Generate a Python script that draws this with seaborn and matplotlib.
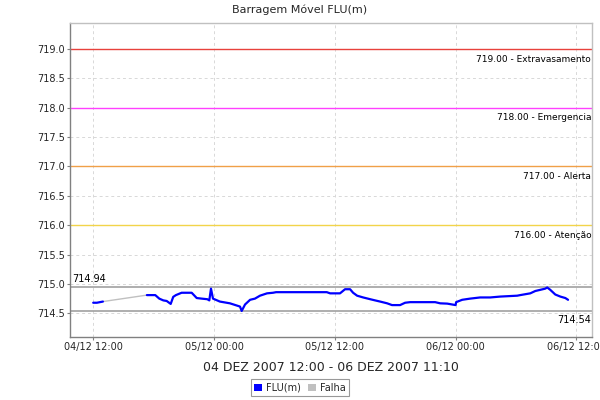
import matplotlib
matplotlib.use("Agg")
import matplotlib.pyplot as plt
import matplotlib.dates as mdates
from matplotlib.patches import Patch
import seaborn as sns
import pandas as pd

# ---- data ----
flu_times = [
    "2007-12-04 12:00", "2007-12-04 12:22", "2007-12-04 12:58",
    "2007-12-04 17:20", "2007-12-04 18:10", "2007-12-04 18:34", "2007-12-04 18:58",
    "2007-12-04 19:18", "2007-12-04 19:42", "2007-12-04 19:57", "2007-12-04 20:13",
    "2007-12-04 20:47", "2007-12-04 21:47", "2007-12-04 22:17", "2007-12-04 22:47",
    "2007-12-04 23:20", "2007-12-04 23:32", "2007-12-04 23:42", "2007-12-04 23:54",
    "2007-12-05 00:35", "2007-12-05 01:35", "2007-12-05 02:35", "2007-12-05 02:45",
    "2007-12-05 03:05", "2007-12-05 03:35", "2007-12-05 04:04", "2007-12-05 04:34",
    "2007-12-05 05:16", "2007-12-05 05:52", "2007-12-05 06:10", "2007-12-05 11:12",
    "2007-12-05 11:32", "2007-12-05 12:31", "2007-12-05 13:01", "2007-12-05 13:31",
    "2007-12-05 13:49", "2007-12-05 14:13", "2007-12-05 14:49", "2007-12-05 15:31",
    "2007-12-05 16:00", "2007-12-05 16:30", "2007-12-05 17:12", "2007-12-05 17:41",
    "2007-12-05 18:29", "2007-12-05 18:59", "2007-12-05 19:29", "2007-12-05 21:58",
    "2007-12-05 22:28", "2007-12-05 23:10", "2007-12-06 00:00", "2007-12-06 00:03",
    "2007-12-06 00:39", "2007-12-06 01:26", "2007-12-06 02:26", "2007-12-06 03:26",
    "2007-12-06 04:26", "2007-12-06 06:07", "2007-12-06 06:25", "2007-12-06 07:25",
    "2007-12-06 07:55", "2007-12-06 08:25", "2007-12-06 08:54", "2007-12-06 09:06",
    "2007-12-06 09:24", "2007-12-06 09:54", "2007-12-06 10:24", "2007-12-06 10:54",
    "2007-12-06 11:10",
]
flu_values = [
    714.68, 714.68, 714.70,
    714.81, 714.81, 714.75, 714.72,
    714.71, 714.66, 714.78, 714.81,
    714.85, 714.85, 714.76, 714.75,
    714.74, 714.72, 714.92, 714.75,
    714.70, 714.67, 714.615, 714.54,
    714.65, 714.73, 714.75, 714.80,
    714.84, 714.85, 714.86, 714.86,
    714.84, 714.84, 714.91, 714.91,
    714.85, 714.80, 714.77, 714.74,
    714.72, 714.70, 714.67, 714.64,
    714.64, 714.68, 714.69, 714.69,
    714.67, 714.665, 714.64, 714.69,
    714.73, 714.75, 714.77, 714.77,
    714.785, 714.80, 714.81, 714.84,
    714.88, 714.90, 714.92, 714.94,
    714.90, 714.82, 714.785, 714.76,
    714.73,
]
flu_segment = [0] * 3 + [1] * (len(flu_times) - 3)

falha_times = ["2007-12-04 12:58", "2007-12-04 17:20"]
falha_values = [714.70, 714.81]

limit_values = [719.0, 718.0, 717.0, 716.0]
limit_labels = ["719.00 - Extravasamento", "718.00 - Emergencia",
                "717.00 - Alerta", "716.00 - Atenção"]
limit_colors = ["#e8413c", "#ff40ff", "#f0a048", "#f2d44a"]

max_value = 714.94
min_value = 714.54

title = "Barragem Móvel FLU(m)"
xlabel = "04 DEZ 2007 12:00 - 06 DEZ 2007 11:10"

# ---- build frames ----
df = pd.DataFrame({"t": pd.to_datetime(flu_times), "v": flu_values, "seg": flu_segment})
df_f = pd.DataFrame({"t": pd.to_datetime(falha_times), "v": falha_values})

sns.set_theme(style="white")
plt.rcParams["font.family"] = ["DejaVu Sans"]

fig = plt.figure(figsize=(6, 4), dpi=100)
ax = fig.add_axes([0.117, 0.158, 0.870, 0.784])

ax.grid(True, color="#d8d8d8", linestyle=(0, (3, 3)), linewidth=0.7)
ax.set_axisbelow(True)

for val, lab, col in zip(limit_values, limit_labels, limit_colors):
    ax.axhline(val, color=col, linewidth=1.0, zorder=2)
    ax.text(0.998, val - 0.17, lab, transform=ax.get_yaxis_transform(),
            ha="right", va="center", fontsize=6.5, color="black")

ax.axhline(max_value, color="#999999", linewidth=1.1, zorder=2)
ax.axhline(min_value, color="#999999", linewidth=1.1, zorder=2)
ax.text(0.003, max_value + 0.15, f"{max_value:.2f}", transform=ax.get_yaxis_transform(),
        ha="left", va="center", fontsize=7, color="black")
ax.text(0.998, min_value - 0.15, f"{min_value:.2f}", transform=ax.get_yaxis_transform(),
        ha="right", va="center", fontsize=7, color="black")

sns.lineplot(data=df_f, x="t", y="v", ax=ax, color="#c0c0c0", linewidth=1.0,
             estimator=None, legend=False, zorder=3)
sns.lineplot(data=df, x="t", y="v", units="seg", estimator=None, ax=ax,
             color="#0000ff", linewidth=1.6, legend=False, zorder=4)

ax.set_xlim(pd.Timestamp("2007-12-04 09:43"), pd.Timestamp("2007-12-06 13:34"))
ax.set_ylim(714.10, 719.44)
ax.set_yticks([714.5 + 0.5 * i for i in range(10)])
ax.yaxis.set_major_formatter(matplotlib.ticker.FormatStrFormatter("%.1f"))
ax.xaxis.set_major_locator(mdates.HourLocator(byhour=[0, 12]))
ax.xaxis.set_major_formatter(mdates.DateFormatter("%d/%m %H:%M"))

ax.tick_params(axis="both", labelsize=7, length=2, width=0.8, color="#808080",
               direction="out", pad=2, bottom=True, left=True)
ax.set_xlabel(xlabel, fontsize=9, labelpad=6)
ax.set_ylabel("")

for side in ["left", "bottom"]:
    ax.spines[side].set_color("#808080")
    ax.spines[side].set_linewidth(1.0)
for side in ["top", "right"]:
    ax.spines[side].set_color("#c0c0c0")
    ax.spines[side].set_linewidth(1.0)

fig.text(0.5, 0.975, title, ha="center", va="center", fontsize=8)

handles = [Patch(facecolor="#0000ff", edgecolor="none", label="FLU(m)"),
           Patch(facecolor="#c0c0c0", edgecolor="none", label="Falha")]
leg = fig.legend(handles=handles, loc="lower center", bbox_to_anchor=(0.5, 0.005),
                 ncol=2, fontsize=7, frameon=True, fancybox=False,
                 handlelength=0.8, handleheight=0.8, handletextpad=0.4,
                 columnspacing=0.8, borderpad=0.35, borderaxespad=0.2)
leg.get_frame().set_edgecolor("#808080")
leg.get_frame().set_linewidth(0.8)

fig.savefig("out.png", dpi=100)
